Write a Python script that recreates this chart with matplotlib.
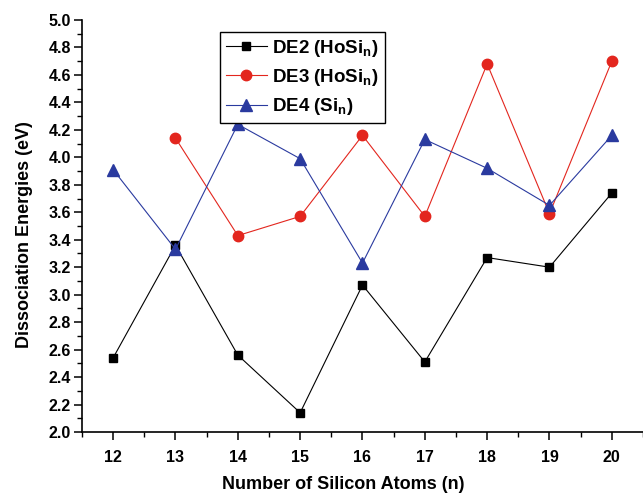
import numpy as np
import matplotlib.pyplot as plt

plt.rcParams['font.family'] = ['Liberation Sans', 'DejaVu Sans']
plt.rcParams['font.weight'] = 'bold'
plt.rcParams['mathtext.fontset'] = 'custom'
plt.rcParams['mathtext.bf'] = 'Liberation Sans:bold'
plt.rcParams['mathtext.rm'] = 'Liberation Sans:bold'

# data
n_atoms = [12, 13, 14, 15, 16, 17, 18, 19, 20]
de2 = [2.54, 3.36, 2.56, 2.14, 3.07, 2.51, 3.27, 3.20, 3.74]
n_de3 = [13, 14, 15, 16, 17, 18, 19, 20]
de3 = [4.14, 3.43, 3.57, 4.16, 3.57, 4.68, 3.59, 4.70]
de4 = [3.91, 3.33, 4.24, 3.99, 3.23, 4.13, 3.92, 3.65, 4.16]

fig = plt.figure(figsize=(6.43, 4.95), dpi=100)
ax = fig.add_axes([0.1275, 0.1273, 0.8725, 0.8323])

ax.plot(n_atoms, de2, color='black', lw=0.8, marker='s', ms=6,
        label=r'DE2 (HoSi$_\mathbf{n}$)')
ax.plot(n_de3, de3, color='#e3261e', lw=0.8, marker='o', ms=7.5,
        label=r'DE3 (HoSi$_\mathbf{n}$)')
ax.plot(n_atoms, de4, color='#2a3a9f', lw=0.8, marker='^', ms=8,
        label=r'DE4 (Si$_\mathbf{n}$)')

ax.set_xlim(11.5, 20.5)
ax.set_ylim(2.0, 5.0)
ax.set_xticks(n_atoms)
ax.set_xticks(np.arange(11.5, 20.6, 0.5), minor=True)
ax.set_yticks(np.arange(2.0, 5.01, 0.2))
ax.set_yticks(np.arange(2.0, 5.01, 0.1), minor=True)
ax.yaxis.set_major_formatter(plt.FormatStrFormatter('%.1f'))

for s in ['top', 'right']:
    ax.spines[s].set_visible(False)
for s in ['left', 'bottom']:
    ax.spines[s].set_linewidth(1.2)

ax.tick_params(which='major', direction='out', length=6, width=1.1, labelsize=11.5)
ax.tick_params(which='minor', direction='out', length=3.5, width=1.0)
ax.tick_params(axis='x', pad=7)
ax.tick_params(axis='y', pad=2)

ax.set_xlabel('Number of Silicon Atoms (n)', fontsize=13, fontweight='bold')
ax.set_ylabel('Dissociation Energies (eV)', fontsize=13, fontweight='bold')
ax.xaxis.set_label_coords(0.465, -0.108)
ax.yaxis.set_label_coords(-0.087, 0.478)

leg = ax.legend(loc='upper left', bbox_to_anchor=(0.246, 0.971), borderaxespad=0,
                fontsize=13.5, fancybox=False, framealpha=1, edgecolor='black',
                handlelength=2.2, labelspacing=0.45, borderpad=0.3, handletextpad=0.3)
leg.get_frame().set_linewidth(1.0)

plt.savefig('out.png', dpi=100)
